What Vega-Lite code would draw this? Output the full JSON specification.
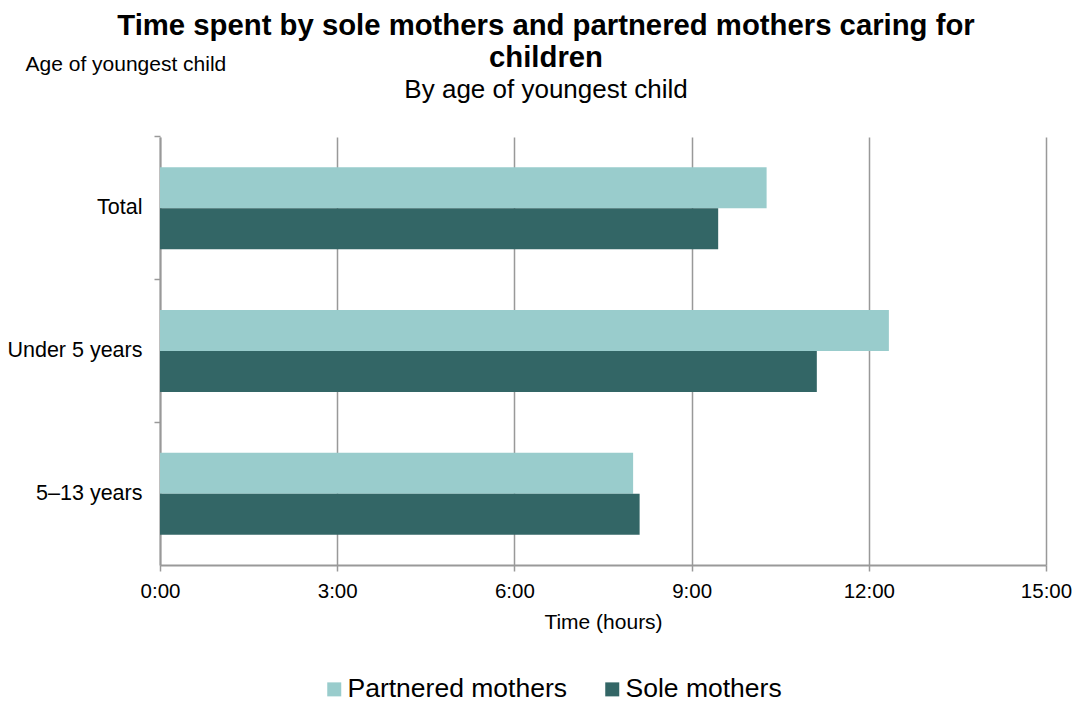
{
  "$schema": "https://vega.github.io/schema/vega-lite/v6.json",
  "width": 886,
  "height": 428,
  "autosize": "none",
  "padding": {"left": 160, "top": 137, "right": 35, "bottom": 137},
  "background": "white",
  "title": {
    "text": ["Time spent by sole mothers and partnered mothers caring for", "children"],
    "subtitle": "By age of youngest child",
    "anchor": "middle",
    "frame": "group",
    "dx": -57,
    "offset": -50,
    "font": "Liberation Sans",
    "fontSize": 29.3,
    "fontWeight": "bold",
    "color": "#000000",
    "lineHeight": 32,
    "subtitleFont": "Liberation Sans",
    "subtitleFontSize": 26,
    "subtitleColor": "#000000",
    "subtitlePadding": 4
  },
  "data": {
    "values": [
      {"age": "Total", "group": "Partnered mothers", "hours": 10.27},
      {"age": "Total", "group": "Sole mothers", "hours": 9.45},
      {"age": "Under 5 years", "group": "Partnered mothers", "hours": 12.34},
      {"age": "Under 5 years", "group": "Sole mothers", "hours": 11.12},
      {"age": "5–13 years", "group": "Partnered mothers", "hours": 8.01},
      {"age": "5–13 years", "group": "Sole mothers", "hours": 8.12}
    ]
  },
  "mark": {"type": "bar"},
  "encoding": {
    "y": {
      "field": "age",
      "type": "nominal",
      "sort": ["Total", "Under 5 years", "5–13 years"],
      "scale": {"paddingInner": 0.425, "paddingOuter": 0.2125},
      "axis": {
        "title": "Age of youngest child",
        "titleAngle": 0,
        "titleAlign": "left",
        "titleBaseline": "middle",
        "titleX": -135,
        "titleY": -73,
        "titleFont": "Liberation Sans",
        "titleFontSize": 21,
        "titleFontWeight": "normal",
        "titleColor": "#000000",
        "labelFont": "Liberation Sans",
        "labelFontSize": 21.5,
        "labelColor": "#000000",
        "labelPadding": 12,
        "labelLimit": 0,
        "bandPosition": -0.37,
        "labelOffset": 0,
        "tickSize": 6,
        "tickColor": "#999999",
        "tickWidth": 1.5,
        "domainColor": "#999999",
        "domainWidth": 2,
        "grid": false
      }
    },
    "yOffset": {
      "field": "group",
      "type": "nominal",
      "sort": ["Partnered mothers", "Sole mothers"],
      "scale": {"paddingInner": 0, "paddingOuter": 0}
    },
    "x": {
      "field": "hours",
      "type": "quantitative",
      "scale": {"domain": [0, 15], "nice": false},
      "axis": {
        "title": "Time (hours)",
        "titleFont": "Liberation Sans",
        "titleFontSize": 21,
        "titleFontWeight": "normal",
        "titleColor": "#000000",
        "titlePadding": 10,
        "values": [0, 3, 6, 9, 12, 15],
        "labelExpr": "floor(datum.value) + ':00'",
        "labelFont": "Liberation Sans",
        "labelFontSize": 20.5,
        "labelColor": "#000000",
        "labelPadding": 10,
        "labelFlush": false,
        "tickSize": 6,
        "tickColor": "#999999",
        "tickWidth": 1.5,
        "domainColor": "#999999",
        "domainWidth": 2,
        "grid": true,
        "gridColor": "#999999",
        "gridWidth": 1.5
      }
    },
    "color": {
      "field": "group",
      "type": "nominal",
      "sort": ["Partnered mothers", "Sole mothers"],
      "scale": {"domain": ["Partnered mothers", "Sole mothers"], "range": ["#99CCCC", "#336666"]},
      "legend": {
        "title": null,
        "orient": "none",
        "direction": "horizontal",
        "legendX": 161,
        "legendY": 539,
        "symbolType": "square",
        "symbolSize": 196,
        "symbolStrokeWidth": 0,
        "symbolOpacity": 1,
        "labelFont": "Liberation Sans",
        "labelFontSize": 26.5,
        "labelColor": "#000000",
        "labelOffset": 0,
        "labelLimit": 0,
        "columnPadding": 32,
        "padding": 0
      }
    }
  },
  "config": {
    "view": {"stroke": null}
  }
}
